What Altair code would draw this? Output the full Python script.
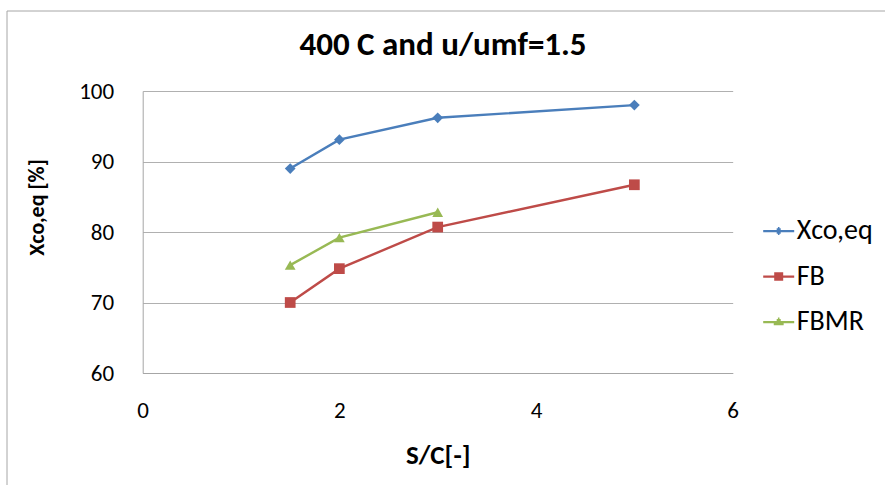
import altair as alt
import pandas as pd

# ---- data ----
series_names = ["Xco,eq", "FB", "FBMR"]
sc_xco = [1.5, 2, 3, 5]
val_xco = [89.0, 93.1, 96.2, 98.0]
sc_fb = [1.5, 2, 3, 5]
val_fb = [70.0, 74.8, 80.7, 86.7]
sc_fbmr = [1.5, 2, 3]
val_fbmr = [75.3, 79.2, 82.8]
x_ticks = [0, 2, 4, 6]
y_ticks = [60, 70, 80, 90, 100]
chart_title = "400 C and u/umf=1.5"

rows = []
for name, xs, ys in [("Xco,eq", sc_xco, val_xco), ("FB", sc_fb, val_fb), ("FBMR", sc_fbmr, val_fbmr)]:
    for x, y in zip(xs, ys):
        rows.append({"series": name, "sc": x, "val": y})
df = pd.DataFrame(rows)

colors = ["#4A7EBB", "#BE4B48", "#98B954"]
shapes = ["diamond", "square", "triangle-up"]
# legend symbols: a short line with the marker drawn from stroked segments
legend_paths = [
    "M-1,0H1M-0.23,0H0.23M-0.13,-0.1H0.13M-0.13,0.1H0.13M-0.05,-0.18H0.05M-0.05,0.18H0.05",
    "M-1,0H1M-0.29,-0.2H0.29M-0.29,-0.07H0.29M-0.29,0.07H0.29M-0.29,0.2H0.29",
    "M-1,0H1M-0.32,0.14H0.32M-0.23,0H0.23M-0.13,-0.12H0.13M-0.05,-0.22H0.05",
]
FONT = "Carlito, Calibri, Lato, sans-serif"

PL, PT, W, H = 142.7, 91, 590, 282

xenc = alt.X("sc:Q", scale=alt.Scale(domain=[0, 6], nice=False),
             axis=alt.Axis(values=x_ticks, format="d", grid=False, ticks=False, domainColor="#A6A6A6",
                           labelFontSize=23, labelFont=FONT, labelPadding=26, labelColor="#000000",
                           labelFlush=False,
                           title="S/C[-]", titleFont=FONT, titleFontSize=27, titleFontWeight="bold",
                           titleColor="#000000", titleBaseline="middle", titleY=82))
yenc = alt.Y("val:Q", scale=alt.Scale(domain=[60, 100], nice=False),
             axis=alt.Axis(values=y_ticks, grid=True, gridColor="#B0B0B0", ticks=False,
                           domainColor="#A6A6A6", labelFontSize=23, labelFont=FONT,
                           labelPadding=29, labelColor="#000000", labelFlush=False,
                           title="Xco,eq [%]", titleFont=FONT, titleFontSize=22,
                           titleFontWeight="bold", titleColor="#000000", titleAngle=-90,
                           titleBaseline="middle", titleAlign="center", titleX=-106, titleY=116))

lines = alt.Chart(df).mark_line(strokeWidth=2.4).encode(
    x=xenc, y=yenc,
    color=alt.Color("series:N", scale=alt.Scale(domain=series_names, range=colors), legend=None),
)
points = alt.Chart(df).mark_point(filled=True, opacity=1).encode(
    x="sc:Q", y="val:Q",
    color=alt.Color("series:N", scale=alt.Scale(domain=series_names, range=colors), legend=None),
    shape=alt.Shape("series:N", scale=alt.Scale(domain=series_names, range=shapes), legend=None),
    size=alt.value(115),
)

leg = alt.Legend(title=None, orient="none", legendX=619, legendY=123, labelFont=FONT,
                 labelFontSize=28, labelColor="#000000", symbolSize=961, symbolStrokeWidth=2.25,
                 labelOffset=1, rowPadding=14.5, symbolOpacity=1)
legend_layer = alt.Chart(df).transform_filter("false").mark_point(filled=False).encode(
    x="sc:Q", y="val:Q",
    color=alt.Color("series:N", scale=alt.Scale(domain=series_names, range=colors), legend=leg),
    shape=alt.Shape("series:N", scale=alt.Scale(domain=series_names, range=legend_paths), legend=leg),
)

frame_df = pd.DataFrame({"title": [chart_title]})
top_border = alt.Chart(frame_df).mark_rule(color="#A6A6A6", strokeWidth=1).encode(
    x=alt.value(7 - PL), x2=alt.value(885 - PL + 5), y=alt.value(11 - PT))
left_border = alt.Chart(frame_df).mark_rule(color="#A6A6A6", strokeWidth=1).encode(
    x=alt.value(7 - PL), y=alt.value(11 - PT), y2=alt.value(485 - PT + 5))
title_text = alt.Chart(frame_df).mark_text(
    font=FONT, fontSize=33, fontWeight="bold", color="#000000", align="center",
    baseline="alphabetic"
).encode(text="title:N", x=alt.value(443 - PL), y=alt.value(55 - PT))

chart = alt.layer(top_border, left_border, title_text, lines, points, legend_layer).resolve_scale(
    shape="independent", color="independent"
).properties(
    width=W, height=H,
    autosize=alt.AutoSizeParams(type="none"),
    padding={"left": PL, "top": PT, "right": 885 - PL - W, "bottom": 485 - PT - H},
    background="#FFFFFF",
).configure_view(stroke=None)

chart.save("out.html", embed_options={"renderer": "svg", "actions": False})
